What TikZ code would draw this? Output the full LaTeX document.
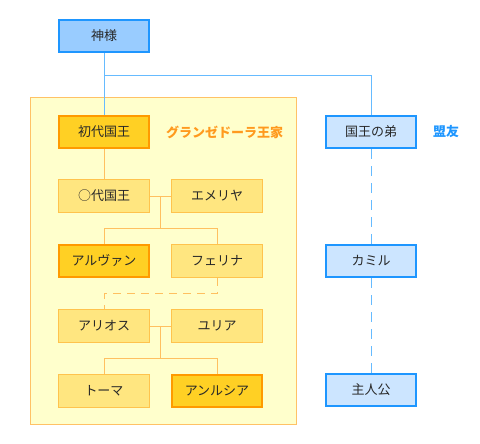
\documentclass[tikz,border=0pt]{standalone}
\usepackage{fontspec}
\setmainfont{Noto Sans CJK JP}
\usepackage{tikz}
\usetikzlibrary{positioning, calc, backgrounds}
\definecolor{kamifill}  {RGB}{153, 204, 255}
\definecolor{allyfill}  {RGB}{204, 229, 255}
\definecolor{allyedge}  {RGB}{ 30, 150, 255}
\definecolor{allyline}  {RGB}{102, 187, 255}
\definecolor{royalfill} {RGB}{255, 208,  36}
\definecolor{royaledge} {RGB}{255, 154,   0}
\definecolor{kinfill}   {RGB}{255, 230, 128}
\definecolor{kinedge}   {RGB}{255, 195,  77}
\definecolor{housefill} {RGB}{255, 255, 204}
\definecolor{houseedge} {RGB}{255, 194, 102}
\definecolor{houseline} {RGB}{255, 192,  96}
\definecolor{housetext} {RGB}{255, 154,  30}
\definecolor{inktext}   {RGB}{ 40,  40,  40}
\tikzset{
  % person boxes
  person/.style={
    rectangle, minimum width=90pt, minimum height=32pt,
    line width=2pt, font=\fontsize{13pt}{15pt}\selectfont, text=inktext
  },
  godbox/.style={person, fill=kamifill, draw=allyedge},
  allybox/.style={person, fill=allyfill, draw=allyedge},
  heirbox/.style={person, fill=royalfill, draw=royaledge},
  kinbox/.style={person, fill=kinfill, draw=kinedge, line width=1pt,
    minimum width=91pt, minimum height=33pt},
  % connectors
  bluelink/.style={line width=1pt, color=allyline},
  famlink/.style={line width=1pt, color=houseline},
  % group labels
  grouptag/.style={font=\fontsize{13pt}{15pt}\selectfont\bfseries, inner sep=0pt},
}
\begin{document}
\begin{tikzpicture}[node distance=31pt and 21pt]
  \useasboundingbox (0,0) rectangle (480pt,-444pt);
  \node[godbox] (kami) at (104pt,-36pt) {神様};
  \node[heirbox, below=62pt of kami] (shodai) {初代国王};
  \node[kinbox, below=30pt of shodai] (odai) {○代国王};
  \node[kinbox, right=of odai] (emeriya) {エメリヤ};
  \node[heirbox, below=of odai] (aruvan) {アルヴァン};
  \node[kinbox, right=of aruvan] (ferina) {フェリナ};
  \node[kinbox, below=of aruvan] (arios) {アリオス};
  \node[kinbox, right=of arios] (yuria) {ユリア};
  \node[kinbox, below=of arios] (toma) {トーマ};
  \node[heirbox, right=of toma] (anrushia) {アンルシア};
  \node[grouptag, text=housetext, right=16pt of shodai] (house) {グランゼドーラ王家};
  \node[allybox, right=175pt of shodai] (otouto) {国王の弟};
  \node[allybox, below=95pt of otouto] (kamiru) {カミル};
  \node[allybox, below=95pt of kamiru] (hero) {主人公};
  \node[grouptag, text=allyedge, right=16pt of otouto] (ally) {盟友};
  % royal house frame
  \begin{scope}[on background layer]
    \draw[fill=housefill, draw=houseedge, line width=1pt]
      ($(shodai.north west)+(-28pt,17pt)$) rectangle ($(anrushia.south east)+(33pt,-16pt)$);
  \end{scope}
  % blue lines
  \coordinate[below=23pt of kami.south] (b1);
  \draw[bluelink] (kami) -- (shodai);
  \draw[bluelink] (b1) -| (otouto.north);
  \draw[bluelink, dash pattern=on 10pt off 7pt] (otouto) -- (kamiru);
  \draw[bluelink, dash pattern=on 10pt off 7pt] (kamiru) -- (hero);
  % family lines
  \draw[famlink] (shodai) -- (odai);
  \coordinate (m1) at ($(odai.east)!0.5!(emeriya.west)$);
  \coordinate (g1) at ($(odai.south)!0.5!(aruvan.north)$);
  \draw[famlink] (odai) -- (emeriya);
  \draw[famlink] (m1) -- (m1 |- g1);
  \draw[famlink] (aruvan.north) |- (g1) -| (ferina.north);
  \coordinate (g2) at ($(aruvan.south)!0.5!(arios.north)$);
  \draw[famlink, dash pattern=on 8pt off 6pt] (ferina.south) |- (g2) -| (arios.north);
  \coordinate (m2) at ($(arios.east)!0.5!(yuria.west)$);
  \coordinate (g3) at ($(arios.south)!0.5!(toma.north)$);
  \draw[famlink] (arios) -- (yuria);
  \draw[famlink] (m2) -- (m2 |- g3);
  \draw[famlink] (toma.north) |- (g3) -| (anrushia.north);
\end{tikzpicture}
\end{document}
